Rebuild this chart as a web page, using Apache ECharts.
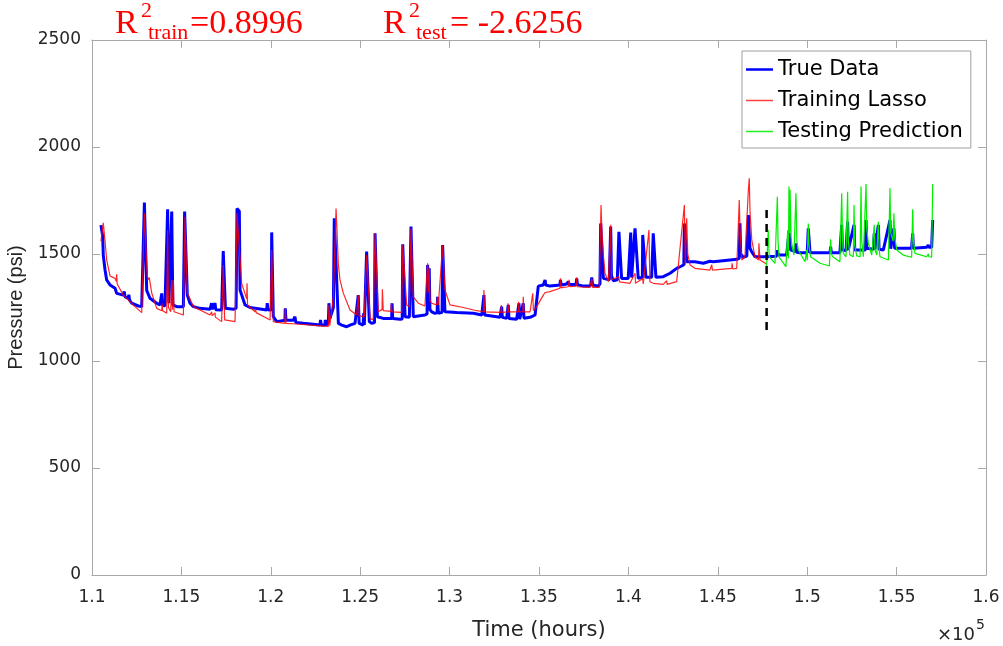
<!DOCTYPE html>
<html>
<head>
<meta charset="utf-8">
<script src="https://cdn.jsdelivr.net/npm/echarts@6.0.0/dist/echarts.min.js"></script>
<style>
  html, body { margin: 0; padding: 0; background: #fff; }
  #main { width: 1003px; height: 646px; }
</style>
</head>
<body>
<div id="main"></div>
<script>
// time in units of 1e5 hours, pressure in psi
var trueData = [
  [1.1050,1635],[1.1060,1581],[1.1063,1495],[1.1073,1425],[1.1082,1379],[1.1101,1355],[1.1129,1340],[1.1138,1316],
  [1.1175,1308],[1.1180,1325],[1.1185,1300],[1.1203,1293],[1.1206,1310],[1.1210,1285],[1.1222,1270],[1.1259,1257],
  [1.1278,1254],[1.1287,1262],[1.1293,1740],[1.1302,1740],[1.1306,1330],[1.1324,1293],[1.1362,1270],[1.1380,1262],
  [1.1390,1316],[1.1393,1262],[1.1408,1257],[1.1418,1255],[1.1423,1709],[1.1430,1270],[1.1440,1262],[1.1446,1698],
  [1.1452,1262],[1.1474,1254],[1.1511,1254],[1.1518,1698],[1.1526,1698],[1.1533,1308],[1.1548,1270],[1.1567,1254],
  [1.1604,1246],[1.1660,1242],[1.1669,1270],[1.1673,1242],[1.1688,1270],[1.1692,1240],[1.1725,1238],[1.1734,1514],
  [1.1738,1514],[1.1746,1246],[1.1790,1242],[1.1806,1246],[1.1811,1713],[1.1818,1713],[1.1824,1700],[1.1828,1332],
  [1.1856,1262],[1.1884,1250],[1.1977,1238],[1.1980,1270],[1.1985,1238],[1.2003,1240],[1.2005,1601],[1.2011,1601],
  [1.2014,1207],[1.2033,1184],[1.2079,1190],[1.2081,1246],[1.2085,1190],[1.2126,1191],[1.2135,1207],[1.2140,1180],
  [1.2182,1176],[1.2275,1168],[1.2278,1192],[1.2282,1168],[1.2303,1168],[1.2305,1192],[1.2310,1168],[1.2322,1180],
  [1.2325,1270],[1.2331,1200],[1.2350,1250],[1.2355,1667],[1.2365,1667],[1.2378,1176],[1.2397,1168],[1.2424,1160],
  [1.2443,1168],[1.2471,1176],[1.2480,1176],[1.2489,1308],[1.2494,1176],[1.2517,1168],[1.2519,1223],[1.2523,1168],
  [1.2532,1176],[1.2536,1511],[1.2540,1511],[1.2551,1184],[1.2564,1176],[1.2580,1180],[1.2583,1597],[1.2588,1597],
  [1.2596,1207],[1.2629,1199],[1.2676,1199],[1.2678,1270],[1.2682,1199],[1.2723,1195],[1.2735,1196],[1.2738,1545],
  [1.2742,1545],[1.2751,1207],[1.2775,1204],[1.2782,1210],[1.2784,1628],[1.2788,1628],[1.2797,1207],[1.2862,1215],
  [1.2874,1220],[1.2877,1449],[1.2882,1320],[1.2886,1433],[1.2890,1240],[1.2900,1230],[1.2918,1223],[1.2930,1225],
  [1.2933,1300],[1.2937,1223],[1.2958,1228],[1.2961,1542],[1.2965,1542],[1.2974,1230],[1.3040,1227],[1.3133,1223],
  [1.3180,1215],[1.3189,1215],[1.3192,1308],[1.3196,1215],[1.3207,1207],[1.3282,1204],[1.3291,1254],[1.3295,1204],
  [1.3319,1199],[1.3328,1262],[1.3332,1199],[1.3375,1195],[1.3388,1270],[1.3392,1195],[1.3412,1270],[1.3416,1200],
  [1.3450,1204],[1.3478,1215],[1.3496,1350],[1.3524,1355],[1.3534,1379],[1.3538,1355],[1.3561,1350],[1.3617,1355],
  [1.3620,1379],[1.3624,1355],[1.3655,1360],[1.3664,1371],[1.3668,1357],[1.3707,1357],[1.3711,1386],[1.3715,1357],
  [1.3748,1350],[1.3785,1350],[1.3790,1360],[1.3795,1391],[1.3800,1355],[1.3832,1350],[1.3841,1360],[1.3845,1643],
  [1.3850,1643],[1.3860,1386],[1.3893,1379],[1.3901,1628],[1.3905,1400],[1.3916,1375],[1.3938,1379],[1.3947,1604],
  [1.3950,1604],[1.3962,1386],[1.3999,1386],[1.4013,1600],[1.4018,1390],[1.4024,1386],[1.4037,1620],[1.4042,1620],
  [1.4055,1386],[1.4078,1391],[1.4080,1589],[1.4085,1589],[1.4098,1391],[1.4130,1391],[1.4139,1597],[1.4143,1597],
  [1.4154,1391],[1.4195,1394],[1.4233,1410],[1.4270,1433],[1.4298,1444],[1.4310,1450],[1.4313,1643],[1.4318,1643],
  [1.4326,1464],[1.4372,1464],[1.4419,1457],[1.4456,1466],[1.4475,1464],[1.4568,1472],[1.4606,1475],[1.4620,1480],
  [1.4624,1643],[1.4628,1500],[1.4643,1485],[1.4662,1490],[1.4671,1682],[1.4676,1682],[1.4680,1527],[1.4690,1510],
  [1.4708,1487],[1.4773,1487],[1.4829,1490],[1.4833,1518],[1.4838,1495],[1.4885,1495],[1.4898,1600],[1.4902,1600],
  [1.4907,1519],[1.4932,1511],[1.4937,1550],[1.4941,1508],[1.4960,1506],[1.5000,1506],[1.5006,1620],[1.5010,1620],
  [1.5016,1506],[1.5128,1506],[1.5131,1534],[1.5135,1506],[1.5183,1506],[1.5193,1636],[1.5197,1520],[1.5217,1515],
  [1.5226,1651],[1.5230,1519],[1.5239,1519],[1.5262,1636],[1.5266,1519],[1.5277,1519],[1.5325,1519],[1.5329,1659],
  [1.5333,1527],[1.5342,1527],[1.5370,1522],[1.5375,1597],[1.5379,1522],[1.5398,1636],[1.5402,1522],[1.5426,1519],
  [1.5463,1659],[1.5467,1525],[1.5485,1620],[1.5489,1527],[1.5501,1527],[1.5584,1527],[1.5590,1597],[1.5594,1527],
  [1.5603,1527],[1.5668,1531],[1.5677,1542],[1.5681,1531],[1.5696,1531],[1.5702,1659]
];

var lassoTrain = [
  [1.1050,1560],[1.1063,1646],[1.1073,1560],[1.1082,1472],[1.1101,1397],[1.1129,1386],[1.1136,1371],[1.1138,1405],
  [1.1141,1360],[1.1175,1308],[1.1240,1254],[1.1278,1226],[1.1287,1230],[1.1293,1690],[1.1300,1690],[1.1309,1394],
  [1.1318,1380],[1.1320,1391],[1.1324,1370],[1.1334,1318],[1.1362,1246],[1.1390,1235],[1.1392,1270],[1.1395,1235],
  [1.1418,1223],[1.1423,1612],[1.1428,1250],[1.1440,1230],[1.1446,1379],[1.1450,1240],[1.1455,1379],[1.1459,1230],
  [1.1511,1215],[1.1520,1674],[1.1526,1674],[1.1533,1316],[1.1540,1321],[1.1543,1300],[1.1567,1254],[1.1660,1215],
  [1.1669,1230],[1.1672,1212],[1.1688,1225],[1.1690,1205],[1.1725,1184],[1.1734,1449],[1.1738,1449],[1.1742,1192],
  [1.1800,1184],[1.1811,1690],[1.1822,1690],[1.1837,1363],[1.1865,1290],[1.1867,1363],[1.1870,1262],[1.1912,1230],
  [1.1915,1246],[1.1918,1226],[1.1996,1192],[1.2005,1519],[1.2011,1519],[1.2014,1184],[1.2079,1176],[1.2081,1246],
  [1.2085,1176],[1.2145,1173],[1.2294,1163],[1.2322,1162],[1.2325,1262],[1.2330,1165],[1.2340,1165],[1.2350,1300],
  [1.2365,1713],[1.2372,1713],[1.2378,1450],[1.2387,1379],[1.2406,1316],[1.2443,1238],[1.2480,1215],[1.2489,1308],
  [1.2494,1212],[1.2517,1206],[1.2519,1223],[1.2523,1206],[1.2532,1207],[1.2536,1495],[1.2540,1495],[1.2555,1199],
  [1.2573,1192],[1.2583,1597],[1.2588,1597],[1.2601,1230],[1.2622,1240],[1.2624,1335],[1.2629,1235],[1.2672,1232],
  [1.2674,1270],[1.2678,1230],[1.2732,1227],[1.2738,1542],[1.2742,1542],[1.2760,1262],[1.2775,1254],[1.2784,1620],
  [1.2788,1620],[1.2797,1300],[1.2825,1270],[1.2862,1257],[1.2877,1457],[1.2882,1320],[1.2886,1433],[1.2890,1280],
  [1.2900,1270],[1.2928,1262],[1.2933,1300],[1.2937,1262],[1.2946,1262],[1.2961,1542],[1.2966,1542],[1.2974,1332],
  [1.3002,1262],[1.3077,1250],[1.3152,1235],[1.3189,1230],[1.3192,1332],[1.3196,1230],[1.3287,1227],[1.3289,1262],
  [1.3292,1227],[1.3325,1230],[1.3327,1270],[1.3330,1230],[1.3384,1230],[1.3386,1277],[1.3390,1230],[1.3410,1230],
  [1.3412,1300],[1.3416,1230],[1.3450,1230],[1.3465,1316],[1.3469,1235],[1.3487,1254],[1.3524,1308],[1.3534,1320],
  [1.3561,1324],[1.3617,1340],[1.3620,1386],[1.3624,1342],[1.3636,1344],[1.3664,1347],[1.3668,1379],[1.3672,1347],
  [1.3707,1350],[1.3711,1391],[1.3715,1347],[1.3785,1344],[1.3795,1386],[1.3800,1344],[1.3837,1344],[1.3847,1729],
  [1.3852,1600],[1.3860,1495],[1.3869,1410],[1.3888,1371],[1.3901,1636],[1.3905,1380],[1.3916,1371],[1.3947,1394],
  [1.3950,1370],[1.4009,1363],[1.4037,1410],[1.4040,1363],[1.4080,1386],[1.4083,1360],[1.4115,1612],[1.4120,1370],
  [1.4139,1363],[1.4195,1358],[1.4214,1375],[1.4217,1358],[1.4270,1371],[1.4313,1729],[1.4318,1450],[1.4326,1667],
  [1.4332,1500],[1.4345,1449],[1.4372,1433],[1.4456,1425],[1.4466,1450],[1.4470,1425],[1.4578,1433],[1.4580,1457],
  [1.4584,1430],[1.4606,1433],[1.4620,1752],[1.4624,1620],[1.4634,1472],[1.4652,1487],[1.4671,1800],[1.4676,1854],
  [1.4680,1700],[1.4690,1566],[1.4708,1487],[1.4728,1472],[1.4730,1550],[1.4736,1472],[1.4745,1472],[1.4773,1453]
];

var testPred = [
  [1.4773,1441],[1.4782,1612],[1.4786,1520],[1.4788,1487],[1.4820,1456],[1.4829,1460],[1.4833,1768],[1.4837,1560],
  [1.4842,1487],[1.4881,1441],[1.4889,1441],[1.4891,1612],[1.4895,1480],[1.4898,1815],[1.4902,1600],[1.4904,1800],
  [1.4910,1580],[1.4913,1550],[1.4926,1495],[1.4937,1784],[1.4942,1560],[1.4950,1519],[1.4988,1464],[1.4997,1519],
  [1.5000,1470],[1.5006,1643],[1.5010,1540],[1.5019,1487],[1.5072,1457],[1.5124,1444],[1.5131,1569],[1.5135,1500],
  [1.5143,1487],[1.5183,1464],[1.5193,1784],[1.5198,1560],[1.5202,1503],[1.5217,1487],[1.5226,1791],[1.5230,1560],
  [1.5239,1495],[1.5258,1487],[1.5262,1729],[1.5266,1540],[1.5277,1491],[1.5296,1487],[1.5301,1815],[1.5305,1560],
  [1.5314,1487],[1.5325,1485],[1.5329,1827],[1.5333,1620],[1.5342,1550],[1.5361,1495],[1.5370,1490],[1.5375,1636],
  [1.5379,1520],[1.5389,1495],[1.5398,1651],[1.5402,1530],[1.5407,1487],[1.5454,1472],[1.5463,1807],[1.5467,1600],
  [1.5480,1560],[1.5485,1690],[1.5489,1580],[1.5501,1519],[1.5537,1495],[1.5584,1485],[1.5590,1709],[1.5594,1560],
  [1.5603,1503],[1.5668,1487],[1.5677,1500],[1.5681,1487],[1.5696,1485],[1.5702,1827]
];

// train / test split marker
var splitLine = [[1.4773,1145],[1.4773,1730]];

var xRange = [1.1, 1.6];
var yRange = [0, 2500];

var myChart = echarts.init(document.getElementById('main'));

var axisColor = '#a8a8a8';
var labelColor = '#262626';
var wide = '"DejaVu Sans", sans-serif';
var sans = '"Liberation Sans", Arial, sans-serif';
var serif = '"Liberation Serif", "Times New Roman", serif';

// legend line icons: tiny corner dots fix the box at 27x20, the band is the line
function bandIcon(h) {
  var t = 10 - h / 2;
  return 'path://M0,0h0.01v0.01h-0.01z M0,' + t + 'h27v' + h + 'h-27z M26.99,19.99h0.01v0.01h-0.01z';
}

function redText(x, y, text, size) {
  return {
    type: 'text', x: x, y: y, z: 100,
    style: { text: text, font: size + 'px ' + serif, fill: '#ff0000', verticalAlign: 'middle' }
  };
}

var option = {
  animation: false,
  backgroundColor: '#fff',
  grid: { left: 92, right: 17, top: 40, bottom: 71, containLabel: false, outerBoundsMode: 'none' },
  legend: {
    orient: 'vertical',
    left: 742,
    top: 51,
    padding: [8, 8, 6, 4],
    itemWidth: 27,
    itemHeight: 20,
    itemGap: 10,
    backgroundColor: '#fff',
    borderColor: '#a0a0a0',
    borderWidth: 1,
    textStyle: { fontFamily: wide, fontSize: 21, color: '#000', lineHeight: 20 },
    data: [
      { name: 'True Data', icon: bandIcon(2.5), itemStyle: { color: '#0000ff' } },
      { name: 'Training Lasso', icon: bandIcon(1.6), itemStyle: { color: '#ff4040' } },
      { name: 'Testing Prediction', icon: bandIcon(1.6), itemStyle: { color: '#22ee22' } }
    ]
  },
  xAxis: [{
    type: 'value',
    min: xRange[0], max: xRange[1], interval: 0.05,
    name: 'Time (hours)',
    nameLocation: 'middle',
    nameGap: 45,
    nameTextStyle: { fontFamily: wide, fontSize: 21, color: labelColor },
    axisLine: { onZero: false, lineStyle: { color: axisColor, width: 1 } },
    axisTick: { inside: true, length: 8, lineStyle: { color: axisColor } },
    axisLabel: {
      fontFamily: wide, fontSize: 17, color: labelColor, margin: 14,
      formatter: function (v) { return String(parseFloat(v.toFixed(2))); }
    },
    splitLine: { show: false }
  }, {
    type: 'value', position: 'top',
    min: xRange[0], max: xRange[1], interval: 0.05,
    axisLine: { onZero: false, lineStyle: { color: axisColor, width: 1 } },
    axisTick: { inside: true, length: 8, lineStyle: { color: axisColor } },
    axisLabel: { show: false },
    splitLine: { show: false }
  }],
  yAxis: [{
    type: 'value',
    min: yRange[0], max: yRange[1], interval: 500,
    name: 'Pressure (psi)',
    nameLocation: 'middle',
    nameGap: 56,
    nameTextStyle: { fontFamily: sans, fontSize: 20, color: labelColor },
    axisLine: { show: true, onZero: false, lineStyle: { color: axisColor, width: 1 } },
    axisTick: { show: true, inside: true, length: 8, lineStyle: { color: axisColor } },
    axisLabel: {
      fontFamily: wide, fontSize: 17, color: labelColor, margin: 11,
      formatter: function (v) { return String(v); }
    },
    splitLine: { show: false }
  }, {
    type: 'value', position: 'right',
    min: yRange[0], max: yRange[1], interval: 500,
    axisLine: { show: true, onZero: false, lineStyle: { color: axisColor, width: 1 } },
    axisTick: { show: true, inside: true, length: 8, lineStyle: { color: axisColor } },
    axisLabel: { show: false },
    splitLine: { show: false }
  }],
  series: [{
    name: 'True Data',
    type: 'line',
    data: trueData,
    showSymbol: false,
    symbol: 'none',
    lineStyle: { color: '#0000ff', width: 3 },
    itemStyle: { color: '#0000ff' },
    z: 2
  }, {
    name: 'Training Lasso',
    type: 'line',
    data: lassoTrain,
    showSymbol: false,
    symbol: 'none',
    lineStyle: { color: '#ff0000', width: 1.2, opacity: 0.85 },
    itemStyle: { color: '#ff4040' },
    z: 3
  }, {
    name: 'Testing Prediction',
    type: 'line',
    data: testPred,
    showSymbol: false,
    symbol: 'none',
    lineStyle: { color: '#00ee00', width: 1.2 },
    itemStyle: { color: '#22ee22' },
    z: 4
  }, {
    name: 'split',
    type: 'line',
    data: splitLine,
    showSymbol: false,
    symbol: 'none',
    lineStyle: { color: '#000', width: 2.5, type: [8, 6] },
    z: 5
  }],
  graphic: [
    redText(115, 24, 'R', 34),
    redText(141, 11, '2', 22),
    redText(148, 33, 'train', 22),
    redText(190, 24, '=0.8996', 34),
    redText(383, 24, 'R', 34),
    redText(409, 11, '2', 22),
    redText(416, 33, 'test', 22),
    redText(450, 24, '= -2.6256', 34),
    {
      type: 'text', x: 937, y: 635,
      style: { text: '\u00d710', font: '18px ' + wide, fill: labelColor, verticalAlign: 'middle' }
    },
    {
      type: 'text', x: 976, y: 625,
      style: { text: '5', font: '14px ' + wide, fill: labelColor, verticalAlign: 'middle' }
    }
  ]
};

myChart.setOption(option);
</script>
</body>
</html>
